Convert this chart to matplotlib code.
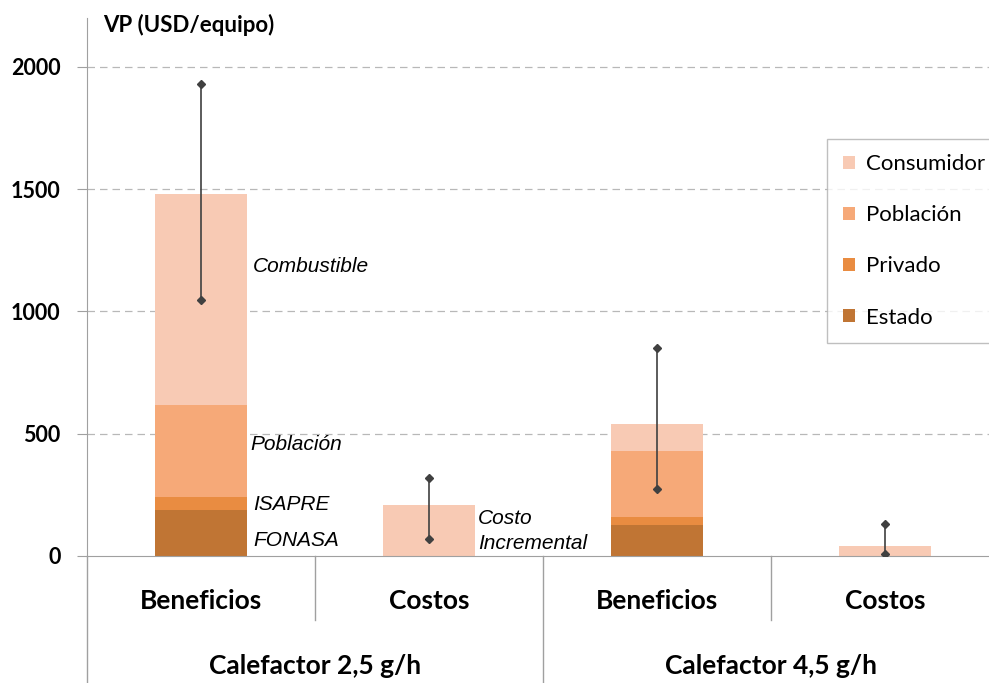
import numpy as np
import matplotlib.pyplot as plt
from matplotlib.patches import Patch
from matplotlib.lines import Line2D

# datos (USD/equipo)
categorias = ["Beneficios", "Costos", "Beneficios", "Costos"]
grupos = ["Calefactor 2,5 g/h", "Calefactor 4,5 g/h"]
estado = [188, 0, 127, 0]
privado = [53, 0, 33, 0]
poblacion = [377, 0, 269, 0]
consumidor = [863, 209, 110, 41]
err_bajo = [1047, 71, 275, 7]
err_alto = [1930, 320, 851, 131]

series = ["Estado", "Privado", "Población", "Consumidor"]
colores = ["#C07534", "#E98C41", "#F6A978", "#F8CAB4"]

fuente = ["Lato", "DejaVu Sans"]
plt.rcParams['font.family'] = fuente

fig = plt.figure(figsize=(9.89, 6.83), dpi=100)
ax = fig.add_axes([87/989, 127/683, 902/989, 538/683])

x = np.arange(len(categorias))
base = np.zeros(len(categorias))
datos = [estado, privado, poblacion, consumidor]
for vals, col in zip(datos, colores):
    ax.bar(x, vals, 0.40, bottom=base, color=col, zorder=2)
    base = base + np.array(vals)

for xi, lo, hi in zip(x, err_bajo, err_alto):
    ax.plot([xi, xi], [lo, hi], color="#404040", lw=1.2, marker="D",
            markersize=4, zorder=3)

ax.set_xlim(-0.5, -0.5 + 902/228)
ax.set_ylim(0, 2200)
ax.set_yticks([0, 500, 1000, 1500, 2000])
ax.set_yticklabels(["0", "500", "1000", "1500", "2000"], fontsize=15.5, fontweight="bold")
ax.tick_params(axis="y", direction="out", length=7, color="#a0a0a0", pad=12)
ax.set_xticks([])
for yv in [500, 1000, 1500, 2000]:
    ax.axhline(yv, color="#b8b8b8", lw=0.9, ls=(0, (6, 4)), zorder=1)

for s in ["top", "right"]:
    ax.spines[s].set_visible(False)
ax.spines["left"].set_color("#a0a0a0")
ax.spines["bottom"].set_color("#a0a0a0")

# separadores de categorias
tr = ax.get_xaxis_transform()
for xs, yb in [(0.5, -0.119), (1.5, -0.236), (2.5, -0.119)]:
    ax.add_line(Line2D([xs, xs], [0, yb], transform=tr, color="#a0a0a0",
                       lw=1, clip_on=False))
ax.add_line(Line2D([-0.5, -0.5], [0, -0.236], transform=tr, color="#a0a0a0",
                   lw=1, clip_on=False))

for xi, c in zip(x, categorias):
    ax.text(xi, -0.084, c, transform=tr, ha="center", va="center",
            fontsize=19, fontweight="bold")
for gi, g in enumerate(grupos):
    ax.text(0.5 + 2*gi, -0.204, g, transform=tr, ha="center", va="center",
            fontsize=19, fontweight="bold")

ax.text(0.018, 0.987, "VP (USD/equipo)", transform=ax.transAxes, ha="left",
        va="center", fontsize=16, fontweight="bold")

# etiquetas en cursiva
etiquetas = [(0.228, 1182, "Combustible"), (0.216, 454, "Población"),
             (0.228, 209, "ISAPRE"), (0.228, 65, "FONASA"),
             (1.215, 155, "Costo"), (1.215, 53, "Incremental")]
for xe, ye, t in etiquetas:
    ax.text(xe, ye, t, ha="left", va="center", fontsize=15, style="italic",
            family=["Liberation Sans", "DejaVu Sans"])

handles = [Patch(facecolor=c, edgecolor="none") for c in colores[::-1]]
leg = fig.legend(handles, series[::-1], loc="upper right",
                 bbox_to_anchor=(1.012, 0.797), frameon=True, fancybox=False,
                 fontsize=16, handlelength=0.55, handleheight=0.55,
                 labelspacing=1.4, handletextpad=0.5, borderpad=0.7,
                 borderaxespad=0)
leg.get_frame().set_edgecolor("#b0b0b0")
leg.get_frame().set_linewidth(1)

fig.savefig("out.png", dpi=100)
